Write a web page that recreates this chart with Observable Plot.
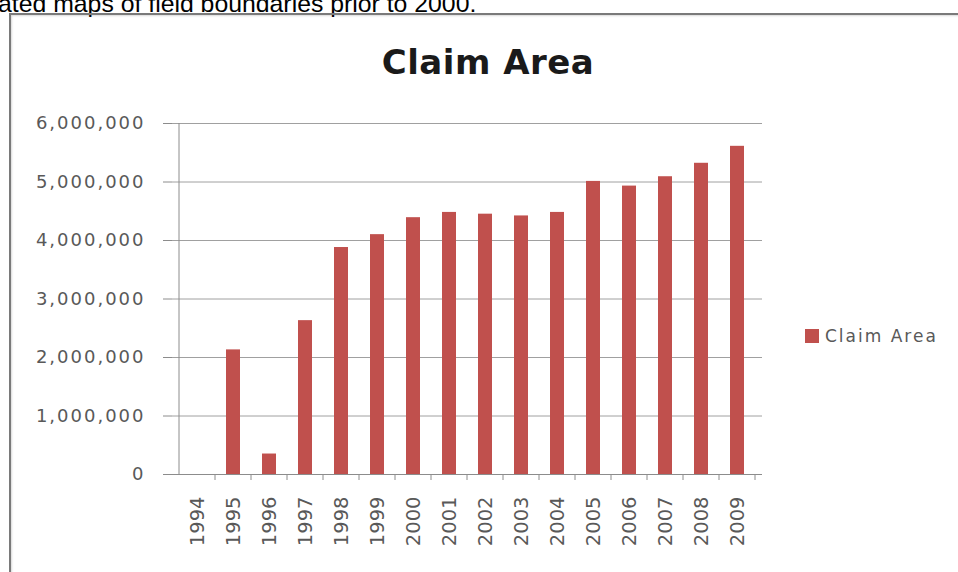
<!DOCTYPE html>
<html>
<head>
<meta charset="utf-8">
<script src="https://cdn.jsdelivr.net/npm/d3@7"></script>
<script src="https://cdn.jsdelivr.net/npm/@observablehq/plot@0.6"></script>
<style>
  html, body { margin: 0; padding: 0; background: #fff; overflow: hidden; }
  #wrap { position: relative; width: 958px; height: 572px; overflow: hidden; background: #fff; }
  #toptext { position: absolute; left: -2px; top: -8px; font: 24.8px "Liberation Sans", Arial, sans-serif; line-height: 24.8px; color: #000; white-space: nowrap; }
  #frame { position: absolute; left: 9px; top: 13px; width: 970px; height: 600px; border-top: 2px solid #7a7a7a; border-left: 2px solid #7a7a7a; box-shadow: inset 1px 1px 2px rgba(0,0,0,0.15); }
  #chart { position: absolute; left: 0; top: 0; }
  #title { position: absolute; left: 488px; top: 45px; transform: translateX(-50%); font: bold 34px "DejaVu Sans", sans-serif; line-height: 34px; color: #1a1a1a; white-space: nowrap; letter-spacing: 0.5px; }
  #legend { position: absolute; left: 805px; top: 326px; display: flex; align-items: center; font: 17px "DejaVu Sans", sans-serif; color: #595959; letter-spacing: 2px; white-space: nowrap; }
  #legend .sw { width: 14px; height: 14px; background: #C0504D; margin-right: 6px; }
</style>
</head>
<body>
<div id="wrap">
  <div id="toptext">ated maps of field boundaries prior to 2000.</div>
  <div id="frame"></div>
  <div id="chart"></div>
  <div id="title">Claim Area</div>
  <div id="legend"><div class="sw"></div><span>Claim Area</span></div>
</div>
<script>
const years = ["1994","1995","1996","1997","1998","1999","2000","2001","2002","2003","2004","2005","2006","2007","2008","2009"];
const claimArea = [0, 2130000, 350000, 2630000, 3880000, 4100000, 4390000, 4480000, 4450000, 4420000, 4480000, 5010000, 4930000, 5090000, 5320000, 5610000];
const yTicks = [0, 1000000, 2000000, 3000000, 4000000, 5000000, 6000000];
const seriesName = "Claim Area";

const data = years.map((y, i) => ({year: y, value: claimArea[i]}));

const grey = "#8c8c8c";
const textGrey = "#595959";

const plot = Plot.plot({
  width: 958,
  height: 572,
  marginLeft: 172,
  marginRight: 196,
  marginTop: 123,
  marginBottom: 98,
  style: {background: "transparent", fontFamily: "'DejaVu Sans', sans-serif", color: textGrey},
  x: {type: "band", domain: years, paddingInner: 0.62, paddingOuter: 0.31},
  y: {domain: [0, 6000000]},
  marks: [
    Plot.gridY(yTicks, {stroke: "#a0a0a0", strokeOpacity: 1, strokeWidth: 1}),
    Plot.barY(data, {x: "year", y: "value", fill: "#C0504D"}),
    Plot.axisY(yTicks, {tickSize: 9, tickPadding: 18, tickFormat: d3.format(","), stroke: grey, fontSize: 18, fill: textGrey, label: null}),
    Plot.axisX({tickSize: 0, tickRotate: -90, tickPadding: 22, fontSize: 19.5, fill: textGrey, label: null}),
    Plot.ruleY([0], {stroke: grey, strokeWidth: 1})
  ]
});
document.getElementById("chart").appendChild(plot);

// Excel-style details: vertical axis line and tick marks at category boundaries
const xs = plot.scale("x");
const ys = plot.scale("y");
const svg = d3.select(plot);
const gap = (xs.step - xs.bandwidth) / 2;
const bounds = years.map(y => xs.apply(y) - gap).concat([xs.apply(years[years.length - 1]) + xs.bandwidth + gap]);
const y0 = ys.apply(0);
const yTop = ys.apply(6000000);
svg.append("line")
  .attr("x1", bounds[0]).attr("x2", bounds[0])
  .attr("y1", yTop).attr("y2", y0)
  .attr("stroke", grey);
svg.append("g").selectAll("line").data(bounds.slice(1)).join("line")
  .attr("x1", d => d).attr("x2", d => d)
  .attr("y1", y0).attr("y2", y0 + 6)
  .attr("stroke", grey);
// letter spacing on y tick labels to match the wide original lettering
svg.selectAll("[aria-label='y-axis tick label'] text").style("letter-spacing", "2px");
</script>
</body>
</html>
